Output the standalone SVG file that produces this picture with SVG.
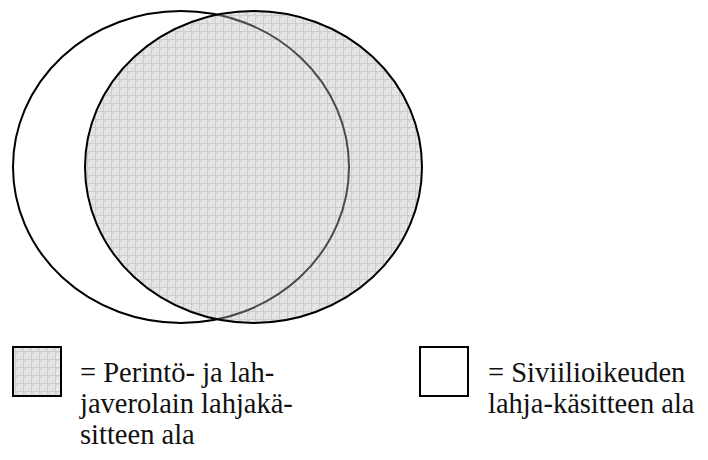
<svg xmlns="http://www.w3.org/2000/svg" width="708" height="460" viewBox="0 0 708 460">
<defs>
<pattern id="grid" width="8" height="8" patternUnits="userSpaceOnUse">
<rect width="8" height="8" fill="#e6e6e6"/>
<rect x="0" y="0" width="2" height="2" fill="#d9d9d9"/>
<rect x="4" y="4" width="2" height="2" fill="#d9d9d9"/>
<rect x="7" y="0" width="1" height="8" fill="#cccccc"/>
<rect x="0" y="7" width="8" height="1" fill="#cccccc"/>
</pattern>
<clipPath id="inTax">
<ellipse cx="253.5" cy="167" rx="168.5" ry="156"/>
</clipPath>
</defs>
<style>
.outline{stroke:#000;stroke-width:2}
</style>
<g id="venn">
<ellipse id="civil" cx="181" cy="167" rx="168" ry="156" fill="#fff" class="outline"/>
<ellipse id="tax-fill" cx="253.5" cy="167" rx="168.5" ry="156" fill="url(#grid)"/>
<ellipse id="civil-inner-arc" cx="181" cy="167" rx="168" ry="156" fill="none" stroke="#4a4a4a" stroke-width="2" clip-path="url(#inTax)"/>
<ellipse id="tax" cx="253.5" cy="167" rx="168.5" ry="156" fill="none" class="outline"/>
</g>
<g id="legend-tax" font-family="'Liberation Serif', 'DejaVu Serif', serif" font-size="28.5" fill="#111">
<rect x="13" y="347" width="48" height="49" fill="url(#grid)" class="outline"/>
<text x="80" y="382">= Perintö- ja lah-</text>
<text x="80" y="413">javerolain lahjakä-</text>
<text x="80" y="444">sitteen ala</text>
</g>
<g id="legend-civil" font-family="'Liberation Serif', 'DejaVu Serif', serif" font-size="28.5" fill="#111">
<rect x="420" y="347" width="48" height="49" fill="#fff" class="outline"/>
<text x="488" y="382">= Siviilioikeuden</text>
<text x="488" y="413">lahja-käsitteen ala</text>
</g>
</svg>
